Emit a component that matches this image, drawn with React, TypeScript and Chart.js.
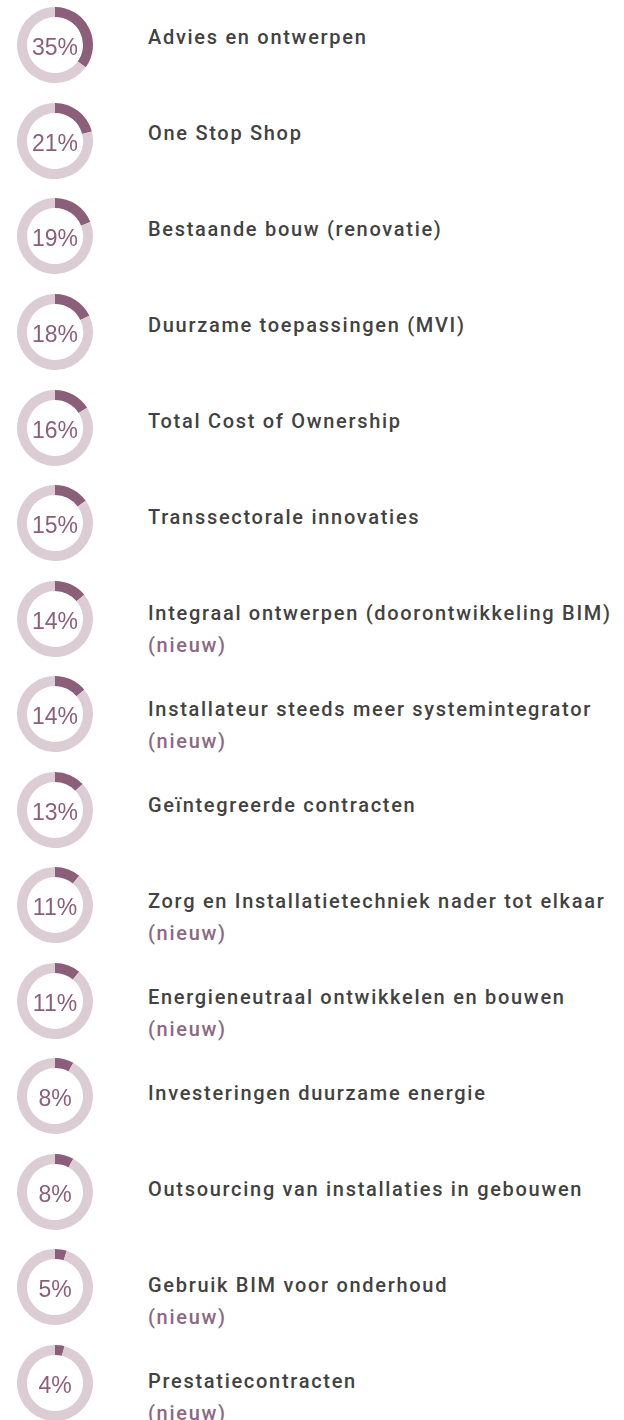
import React, { useEffect, useRef } from "react";
import { Chart, registerables } from "chart.js";

Chart.register(...registerables);

const categories: string[] = [
  "Advies en ontwerpen",
  "One Stop Shop",
  "Bestaande bouw (renovatie)",
  "Duurzame toepassingen (MVI)",
  "Total Cost of Ownership",
  "Transsectorale innovaties",
  "Integraal ontwerpen (doorontwikkeling BIM)",
  "Installateur steeds meer systemintegrator",
  "Geïntegreerde contracten",
  "Zorg en Installatietechniek nader tot elkaar",
  "Energieneutraal ontwikkelen en bouwen",
  "Investeringen duurzame energie",
  "Outsourcing van installaties in gebouwen",
  "Gebruik BIM voor onderhoud",
  "Prestatiecontracten",
];

const percentages: number[] = [35, 21, 19, 18, 16, 15, 14, 14, 13, 11, 11, 8, 8, 5, 4];

const isNew: boolean[] = [
  false, false, false, false, false, false, true, true, false, true, true, false, false, true, true,
];

const newTag = "(nieuw)";

const DARK = "#8b5e79";
const LIGHT = "#dccdd5";
const PCT_COLOR = "#8b5e79";
const LABEL_COLOR = "#424242";
const NEW_COLOR = "#8d6783";

function Donut({ value, index }: { value: number; index: number }) {
  const ref = useRef<HTMLCanvasElement | null>(null);
  useEffect(() => {
    if (!ref.current) return;
    const centerText = {
      id: "centerText" + index,
      afterDraw(chart: any) {
        const arc = chart.getDatasetMeta(0).data[0];
        if (!arc) return;
        const ctx = chart.ctx;
        ctx.save();
        ctx.fillStyle = PCT_COLOR;
        ctx.font = '23px "Liberation Sans", Arial, sans-serif';
        ctx.textAlign = "center";
        ctx.textBaseline = "alphabetic";
        ctx.fillText(value + "%", arc.x, arc.y + 9.5);
        ctx.restore();
      },
    };
    const chart = new Chart(ref.current, {
      type: "doughnut",
      data: {
        labels: ["value", "rest"],
        datasets: [
          {
            data: [value, 100 - value],
            backgroundColor: [DARK, LIGHT],
            borderWidth: 0,
          },
        ],
      },
      options: {
        responsive: false,
        animation: false,
        cutout: "73.7%",
        events: [],
        layout: { padding: 0 },
        plugins: {
          legend: { display: false },
          tooltip: { enabled: false },
        },
      },
      plugins: [centerText],
    });
    return () => chart.destroy();
  }, [value, index]);
  return (
    <canvas
      ref={ref}
      width={76}
      height={76}
      style={{
        position: "absolute",
        left: 16.5,
        top: -13.85 - 0.45 * index,
        width: 76,
        height: 76,
      }}
    />
  );
}

export default function App() {
  return (
    <div
      style={{
        position: "absolute",
        left: 0,
        top: 0,
        width: 624,
        paddingTop: 21.15,
        fontFamily: "Roboto, sans-serif",
      }}
    >
      {categories.map((cat, i) => (
        <div key={i} style={{ position: "relative", height: 96 }}>
          <Donut value={percentages[i]} index={i} />
          <div
            style={{
              position: "absolute",
              left: 148,
              top: 0,
              fontSize: 20,
              fontWeight: 500,
              lineHeight: "32px",
              letterSpacing: "1.7px",
              whiteSpace: "nowrap",
              color: LABEL_COLOR,
            }}
          >
            <div>{cat}</div>
            {isNew[i] && <div style={{ color: NEW_COLOR }}>{newTag}</div>}
          </div>
        </div>
      ))}
    </div>
  );
}
